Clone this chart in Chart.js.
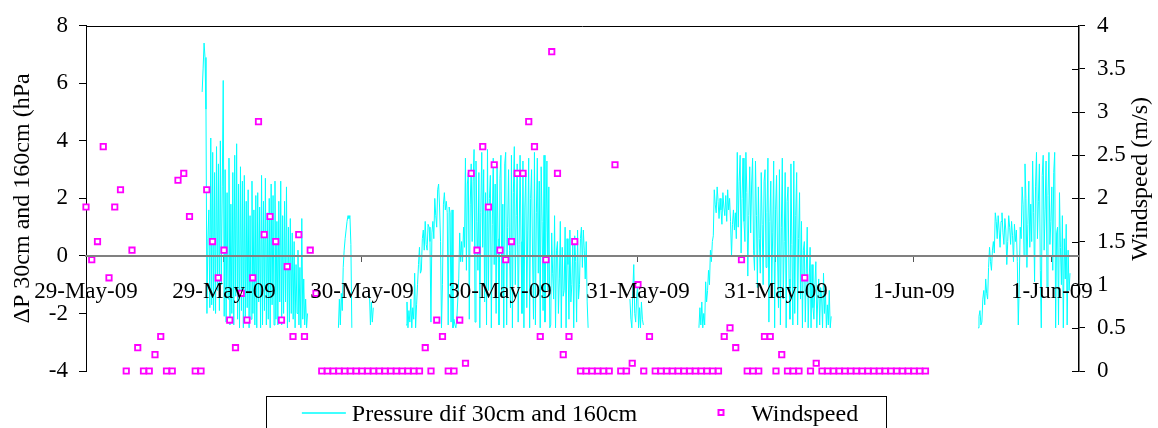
<!DOCTYPE html>
<html>
<head>
<meta charset="utf-8">
<script src="https://cdn.jsdelivr.net/npm/chart.js@4.4.0/dist/chart.umd.min.js"></script>
<style>
html,body{margin:0;padding:0;background:#fff;}
#wrap{width:1158px;height:428px;}
</style>
</head>
<body>
<div id="wrap"><canvas id="c" width="1158" height="428"></canvas></div>
<script>
// ---- axis ticks (hours since 29-May-09 00:00) ----
const xTickHours = [0, 12, 24, 36, 48, 60, 72, 84];
const xTickLabels = ["29-May-09", "29-May-09", "30-May-09", "30-May-09", "31-May-09", "31-May-09", "1-Jun-09", "1-Jun-09"];

// ---- windspeed (m/s), half-hourly from 29-May-09 00:00 ----
const windStartHour = 0;
const windStepHours = 0.5;
const windspeed = [
  1.90, 1.29, 1.50, 2.60, 1.08, 1.90, 2.10, 0, 1.40, 0.27,
  0, 0, 0.19, 0.40, 0, 0, 2.21, 2.29, 1.79, 0,
  0, 2.10, 1.50, 1.08, 1.40, 0.59, 0.27, 0.90, 0.59, 1.08,
  2.89, 1.58, 1.79, 1.50, 0.59, 1.21, 0.40, 1.58, 0.40, 1.40,
  0.90, 0, 0, 0, 0, 0, 0, 0, 0, 0,
  0, 0, 0, 0, 0, 0, 0, 0, 0, 0.27,
  0, 0.59, 0.40, 0, 0, 0.59, 0.09, 2.29, 1.40, 2.60,
  1.90, 2.39, 1.40, 1.29, 1.50, 2.29, 2.29, 2.89, 2.60, 0.40,
  1.29, 3.70, 2.29, 0.19, 0.40, 1.50, 0, 0, 0, 0,
  0, 0, 2.39, 0, 0, 0.09, 1.00, 0, 0.40, 0,
  0, 0, 0, 0, 0, 0, 0, 0, 0, 0,
  0, 0.40, 0.50, 0.27, 1.29, 0, 0, 0, 0.40, 0.40,
  0, 0.19, 0, 0, 0, 1.08, 0, 0.09, 0, 0,
  0, 0, 0, 0, 0, 0, 0, 0, 0, 0,
  0, 0, 0, 0, 0, 0, 0
];

// ---- pressure difference (hPa), 5-minute records, in recorded segments ----
const pressureStepHours = 1 / 12;
const pressureSegmentStarts = [10.1, 21.95, 24.65, 27.83, 47.3, 53.3, 77.57];
const pressureSegA = [5.7, 6.5, 7.4, 6.9, 5.1,
  -2.0, 0.6, 1.6, -1.8, 4.1, -1.7,
  3.6, -1.9, 2.9, -2.0, 3.8, -1.2, 3.2, -1.9, 4.0, -1.0, 2.4,
  6.1,
  -2.1, 3.0, -2.3, 2.2, -1.5, 3.4, -2.4, 1.8, -2.0, 2.9, -2.4, 3.5, -1.4, 3.9, -2.2, 2.5, -2.5, 3.1, -1.9, 2.6, -2.5, 2.8, -2.3, 1.9,
  -1.8, 2.3, -2.5, 1.4, -2.2, 2.6, -2.0, 1.6, -2.4, 2.1, -2.5, 2.2, -1.6, 1.7, -2.5, 2.8, -2.4,
  1.9, -1.9, 2.7, -2.4, 1.5, -2.2, 2.0, -2.5, 2.5, -1.7, 2.1, -2.4, 2.6, -2.2, 1.2, -2.4, 1.9, -1.6,
  2.6, -2.4, 1.4, -2.0, 1.9, -1.6, 2.4, -2.5, 1.0, -2.3, 1.3, -2.0, 0.8, -2.2,
  0.5, -2.5, -0.3, -2.0, 0.2, -2.4, -0.4, -2.5, 1.3, -2.2, -0.8, -2.4, -1.5, -2.5, -2.0];
const pressureSegB = [-2.5, -1.5, -2.4, -1.3, -1.9, -0.4, 0.2, 0.6, 0.9, 1.2, 1.4, 1.3, 1.4, 0.4, -2.5];
const pressureSegB2 = [-1.3, -2.4, -1.6, -2.3, -1.8];
const pressureSegC = [-2.4, -1.6, -2.5, -1.9, -2.3, -1.5, -2.5, -1.8, -2.2, -0.6, -2.5, -1.7,
  -1.0, -0.3, 0.3, -0.6, -0.5, 0.6, 0.9, 0.2,
  1.2, 0.4, 0.2, 1.1, 1.0, 0.5, -2.3, 0.8, 1.2, 0.6,
  2.0, 1.4, 1.0, 2.3, 2.5, 1.7, 0.5, -2.5, -1.0, 1.8, 2.2, 1.6,
  1.9, 1.5, -2.4, 1.7, 1.5, -2.3, 1.6,
  -2.5, -2.2, -2.4, -2.5, -2.2,
  -1.5, -0.8, 0.8, -0.2, 0.5, -0.2, 1.0, 0.3,
  3.4, -0.5, 2.5, 2.9, -2.2, 1.8, 3.2, 0.5, 2.6, 3.7,
  -2.3, 3.3, 1.2, -0.5, 2.9, -2.5, 1.5, 3.6, 0.3, 3.0, -1.6, 2.2, -2.4, 3.7, -1.2, 2.0,
  2.8, -2.5, 1.1, 3.4, -0.3, 2.5, -2.0, 3.1, 0.6, -2.4, 2.7, 3.5, -1.4, 1.8, -2.5, 3.2,
  3.6, -2.4, 1.0, 3.0, 0.2, -1.8, 3.5, -2.5, 2.2, 3.8, -1.0, 1.4, 3.2, -2.3, 0.4, 3.5,
  0.5, -2.0, 3.3, -2.5, 1.7, 2.9, -1.8, 0.9, 3.4, -2.5, 2.0, 3.0, 0.0, -2.2, 3.6, -2.4,
  1.5, 3.4, -0.6, 2.6, -2.5, 3.1, 1.2, -1.9, 3.5, -2.3, 0.8, 3.3, -1.2, 2.4, -2.5,
  -2.4, 0.8, -0.6, -1.5, 1.4, -2.5, 0.2, 0.5, -2.0, -0.8, 1.2, -2.5, 0.3, -1.4, -1.2, 1.0,
  -2.5, 0.6, -0.3, -2.2, 0.9, -1.6, -1.0, 0.4, -2.5, 0.7, -0.2, -2.3, 0.9, -1.5, -1.0, 0.6,
  1.0, -0.4, 0.9, 0.2, -0.8, 0.5, -1.6, -2.5];
const pressureSegD = [-1.5, -2.2, -2.5, -1.2, -0.3, -2.0, -2.3, -1.4, -1.0, -2.5, -1.8, -2.5, -1.6, -2.2, -2.4];
const pressureSegE = [-2.5, -1.8, -2.4, -1.6, -2.5, -2.0, -2.4,
  -0.9, -1.6, -1.2, -0.5, -1.0,
  0.2, -0.2, 0.5,
  0.7, 2.3, 1.8,
  1.5, 2.4, 1.9, 1.3, 2.0, 1.6, 1.1, 2.2, 1.7, 1.4, 2.1, 1.2, 2.3, 1.6,
  2.0, 1.2, 0.0, 1.1, 1.6, 0.9, 1.5, 0.6,
  3.6, 1.0, 2.6, 3.5, 0.1, 2.0, 3.4, 1.2, 0.5, 3.6, 2.2, -0.7, 1.4, 3.1, 0.8, 2.5, 3.4, 0.2,
  -0.5, 3.3, 1.4, -1.1, 2.4, 0.6, -0.6, 2.9, 1.1, -1.0, 2.6, 3.0, -0.4, 1.5,
  3.4, -2.3, 1.2, 2.6, -1.0, 0.8, 3.3, -2.5, 1.6, 2.8, 0.0, -1.8, 3.0, -2.4, 1.0, 3.4,
  -1.5, 0.5, 2.9, -2.5, 1.9, 2.4, -0.8, -2.2, 3.2, 0.4, -2.4,
  3.3, -2.0, 1.4, 2.9, -2.4, 0.6, 2.2, -1.5,
  1.2, -2.5, 0.2, 0.5, -2.3, -0.6, 1.0, -2.5, -1.0, 0.3,
  -2.5, -0.3, -1.8, -2.2, -1.0, -0.2, -2.5, -1.5, -0.8, -2.4, -1.1, -1.4, -2.5, -0.6, -2.0, -1.2,
  -2.5, -1.7, -2.4, -1.2, -2.5, -2.1];
const pressureSegF = [-2.5, -2.1, -1.9, -2.4, -2.3, -1.5, -1.2, -1.7, -0.8, -1.3,
  -1.5, -0.4, 0.3, -0.2, -0.5, 0.2, 0.5, 0.1,
  1.5, 1.2,
  0.6, 1.4, 0.9, 0.3, 1.2, 1.5, 0.8, 0.4, 1.3, 0.9, -0.3, 0.5, 1.4, 1.0, 0.4, 1.2, 0.7, -0.2, 1.1, 0.5, 0.9, -0.2,
  -2.4, -1.0, 1.0, 0.6, 2.4, 1.8,
  0.0, 3.2, 2.0, -0.4, 1.1, 2.6, 0.3, 1.8,
  0.5, 3.3, 1.5, -0.9, 2.4, 3.6, 0.6, 1.9, 3.2, -0.5, -2.5, 2.8, 3.5, 0.2, 1.6, 3.3, -1.1, 2.1, 3.6, 0.4,
  1.2, 2.4, -0.5, 2.9, 3.6, -2.5, 0.8, 1.0, -2.4, 2.2, 0.3, -1.0, 1.4, -2.5, 0.6, -0.8, 1.1, -2.4, 0.2, -1.2, -0.6];

const pressureSegments = [pressureSegA, pressureSegB, pressureSegB2, pressureSegC, pressureSegD, pressureSegE, pressureSegF];

const pressurePoints = [];
pressureSegments.forEach((seg, k) => {
  seg.forEach((v, j) => pressurePoints.push({ x: pressureSegmentStarts[k] + j * pressureStepHours, y: v }));
  pressurePoints.push({ x: pressureSegmentStarts[k] + seg.length * pressureStepHours, y: null });
});
const windPoints = windspeed.map((v, i) => ({ x: windStartHour + i * windStepHours, y: v }));

const SERIF = "'Liberation Serif', 'Times New Roman', serif";
const rightTitle = "Windspeed (m/s)";

const decorPlugin = {
  id: 'decor',
  afterDraw(chart) {
    const { ctx, chartArea: a } = chart;
    ctx.save();
    // top frame line
    ctx.strokeStyle = '#000';
    ctx.lineWidth = 1;
    ctx.beginPath();
    const ty = Math.round(a.top) + 0.5;
    ctx.moveTo(a.left, ty); ctx.lineTo(a.right, ty);
    // inner ticks on the right axis
    const y1 = chart.scales.y1;
    y1.ticks.forEach(t => {
      const py = Math.round(y1.getPixelForValue(t.value)) + 0.5;
      ctx.moveTo(a.right - 7, py); ctx.lineTo(a.right, py);
    });
    ctx.stroke();
    // right axis title (reads bottom to top)
    ctx.fillStyle = '#000';
    ctx.font = "24px " + SERIF;
    ctx.textAlign = 'center';
    ctx.textBaseline = 'middle';
    ctx.translate(a.right + 62, a.top + 153);
    ctx.rotate(-Math.PI / 2);
    ctx.fillText(rightTitle, 0, 0);
    ctx.restore();

    // legend
    ctx.save();
    const ds = chart.data.datasets;
    ctx.font = "24px " + SERIF;
    const w1 = ctx.measureText(ds[0].label).width;
    const w2 = ctx.measureText(ds[1].label).width;
    const total = 44 + 6 + w1 + 81 + 6 + 27 + w2;
    const left = chart.width / 2 + 1 - total / 2;
    const base = 421;
    const mid = 413;
    ctx.strokeStyle = '#000';
    ctx.lineWidth = 1;
    ctx.strokeRect(Math.round(left - 36) + 0.5, 396.5, Math.round(total + 64), 60);
    ctx.strokeStyle = ds[0].borderColor;
    ctx.lineWidth = 1.5;
    ctx.beginPath(); ctx.moveTo(left, mid); ctx.lineTo(left + 44, mid); ctx.stroke();
    ctx.fillStyle = '#000';
    ctx.textAlign = 'left';
    ctx.textBaseline = 'alphabetic';
    ctx.fillText(ds[0].label, left + 50, base);
    const sx = left + 50 + w1 + 81;
    ctx.strokeStyle = ds[1].borderColor;
    ctx.lineWidth = 2;
    ctx.strokeRect(Math.round(sx) + 0.5, mid - 3, 5, 5);
    ctx.fillText(ds[1].label, sx + 33, base);
    ctx.restore();
  }
};

new Chart(document.getElementById('c'), {
  type: 'scatter',
  data: {
    datasets: [
      {
        label: 'Pressure dif 30cm and 160cm',
        data: pressurePoints,
        showLine: true,
        spanGaps: false,
        borderColor: '#00FFFF',
        backgroundColor: '#00FFFF',
        borderWidth: 1,
        pointRadius: 0,
        tension: 0,
        yAxisID: 'y',
        order: 2
      },
      {
        label: 'Windspeed',
        data: windPoints,
        showLine: false,
        pointStyle: 'rect',
        pointRadius: 3.8,
        pointBorderWidth: 1.8,
        borderColor: '#FF00FF',
        backgroundColor: '#FFFFFF',
        yAxisID: 'y1',
        order: 1,
        clip: false
      }
    ]
  },
  options: {
    responsive: false,
    animation: false,
    devicePixelRatio: 1,
    layout: { padding: { top: 20, bottom: 57, left: 0, right: 0 } },
    plugins: { legend: { display: false }, tooltip: { enabled: false } },
    scales: {
      x: {
        type: 'linear',
        min: 0,
        max: 86.35,
        position: { y: 0 },
        afterFit: s => { s.height = 0; },
        afterBuildTicks: s => { s.ticks = xTickHours.map(v => ({ value: v })); },
        ticks: {
          autoSkip: false, maxRotation: 0, minRotation: 0, padding: 17, color: '#000', z: 1,
          font: { family: SERIF, size: 23 },
          callback: (v, i) => xTickLabels[i]
        },
        grid: { display: true, drawOnChartArea: false, drawTicks: true, tickLength: 5, color: '#555', lineWidth: 1 },
        border: { display: true, color: '#808080', width: 2, z: 1 }
      },
      y: {
        type: 'linear',
        position: 'left',
        min: -4,
        max: 8,
        afterFit: s => { s.width = 86; },
        ticks: { stepSize: 2, padding: 11, color: '#000', font: { family: SERIF, size: 23 } },
        grid: { display: true, drawOnChartArea: false, drawTicks: true, tickLength: 7, color: '#000' },
        border: { display: true, color: '#000', width: 1 },
        title: { display: true, text: 'ΔP 30cm and 160cm (hPa', color: '#000', font: { family: SERIF, size: 24 }, padding: { top: 8, bottom: 0 } }
      },
      y1: {
        type: 'linear',
        position: 'right',
        min: 0,
        max: 4,
        afterFit: s => { s.width = 79; },
        ticks: { stepSize: 0.5, padding: 12, color: '#000', font: { family: SERIF, size: 23 }, callback: v => String(Math.round(v * 10) / 10) },
        grid: { display: true, drawOnChartArea: false, drawTicks: true, tickLength: 6, color: '#000' },
        border: { display: true, color: '#000', width: 1.5 },
        title: { display: false, text: rightTitle }
      }
    }
  },
  plugins: [decorPlugin]
});
</script>
</body>
</html>
